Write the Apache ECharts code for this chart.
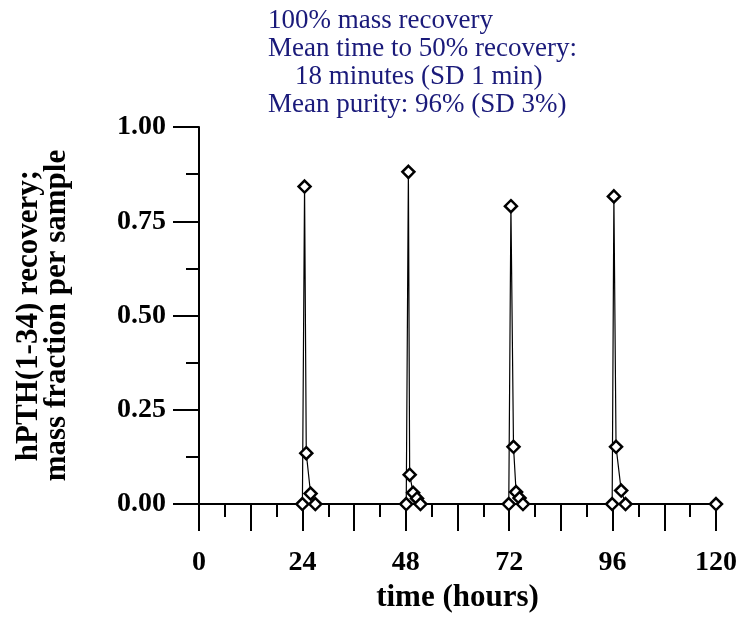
<!DOCTYPE html>
<html>
<head>
<meta charset="utf-8">
<script src="https://cdn.jsdelivr.net/npm/echarts@6/dist/echarts.min.js"></script>
<style>
	html, body { margin: 0; padding: 0; background: #fff; }
	#chart { width: 740px; height: 618px; }
</style>
</head>
<body>
<div id="chart"></div>
<script>
// time (hours) and mass fraction per sample
var timeHours = [24.0, 24.5, 24.9, 25.9, 27.0, 48.1, 48.6, 48.9, 49.7, 50.6, 51.4, 71.9, 72.4, 73.0, 73.6, 74.4, 75.2, 95.9, 96.3, 96.8, 98.0, 99.0, 120.0];
var recovery = [0.0, 0.842, 0.135, 0.028, 0.0, 0.0, 0.881, 0.078, 0.03, 0.015, 0.0, 0.0, 0.79, 0.152, 0.032, 0.016, 0.0, 0.0, 0.816, 0.152, 0.036, 0.0, 0.0];

var notes = ["100% mass recovery", "Mean time to 50% recovery:", "    18 minutes (SD 1 min)", "Mean purity: 96% (SD 3%)"];

var serif = "'Liberation Serif', 'Times New Roman', serif";
var ink = "#000";

var points = timeHours.map(function (t, i) {
	return [t, recovery[i]];
});

var myChart = echarts.init(document.getElementById("chart"), null, { renderer: "canvas" });
var option = {
	animation: false,
	title: {
		text: notes.join("\n"),
		left: 263,
		top: 2,
		textStyle: {
			color: "#1a1a7a",
			fontFamily: serif,
			fontWeight: "normal",
			fontSize: 27,
			lineHeight: 28
		}
	},
	grid: { left: 199, right: 23, top: 127, bottom: 104 },
	xAxis: {
		type: "value",
		min: 0,
		max: 120,
		interval: 12,
		name: "time (hours)",
		nameLocation: "middle",
		nameGap: 76,
		nameTextStyle: { color: ink, fontFamily: serif, fontWeight: "bold", fontSize: 31 },
		axisLine: { lineStyle: { color: ink, width: 2 } },
		axisTick: { length: 27, lineStyle: { color: ink, width: 2 } },
		minorTick: { show: true, splitNumber: 2, length: 13, lineStyle: { color: ink, width: 2 } },
		axisLabel: {
			margin: 45,
			color: ink,
			fontFamily: serif,
			fontWeight: "bold",
			fontSize: 28,
			formatter: function (v) {
				return v % 24 === 0 ? String(v) : "";
			}
		},
		splitLine: { show: false }
	},
	yAxis: {
		type: "value",
		min: 0,
		max: 1,
		interval: 0.25,
		name: "hPTH(1-34) recovery;\nmass fraction per sample",
		nameLocation: "middle",
		nameGap: 128,
		nameTextStyle: { color: ink, fontFamily: serif, fontWeight: "bold", fontSize: 31, lineHeight: 28 },
		axisLine: { lineStyle: { color: ink, width: 2 } },
		axisTick: { length: 26, lineStyle: { color: ink, width: 2 } },
		minorTick: { show: true, splitNumber: 2, length: 13, lineStyle: { color: ink, width: 2 } },
		axisLabel: {
			margin: 33,
			color: ink,
			fontFamily: serif,
			fontWeight: "bold",
			fontSize: 28,
			formatter: function (v) {
				return v.toFixed(2);
			}
		},
		splitLine: { show: false }
	},
	series: [
		{
			type: "line",
			data: points,
			symbol: "diamond",
			symbolSize: 12,
			showAllSymbol: true,
			lineStyle: { color: ink, width: 1.2 },
			itemStyle: { color: "#fff", borderColor: ink, borderWidth: 2.5 }
		}
	]
};
myChart.setOption(option);
</script>
</body>
</html>
